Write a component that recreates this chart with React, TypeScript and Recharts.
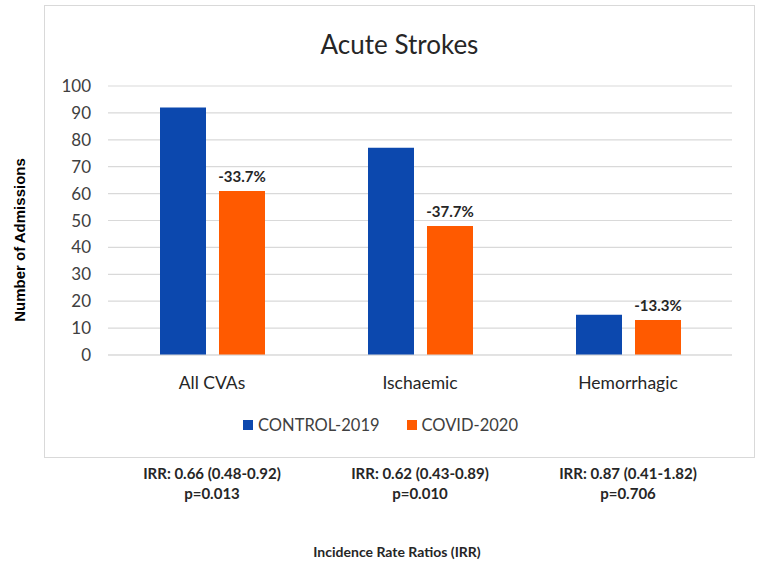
import { Bar, BarChart, CartesianGrid, XAxis, YAxis, LabelList } from "recharts";

const categories = ["All CVAs", "Ischaemic", "Hemorrhagic"];
const control2019 = [92, 77, 15];
const covid2020 = [61, 48, 13];
const changeLabels = ["-33.7%", "-37.7%", "-13.3%"];
const irrLines = ["IRR: 0.66 (0.48-0.92)", "IRR: 0.62 (0.43-0.89)", "IRR: 0.87 (0.41-1.82)"];
const pLines = ["p=0.013", "p=0.010", "p=0.706"];
const yTicks = [0, 10, 20, 30, 40, 50, 60, 70, 80, 90, 100];

const BLUE = "#0C48AE";
const ORANGE = "#FF5A00";
const FONT = "Lato, 'Open Sans', sans-serif";

const data = categories.map((name, i) => ({
  name,
  control: control2019[i],
  covid: covid2020[i],
  change: changeLabels[i],
}));

const CategoryTick = (props: any) => {
  const { x, y, payload } = props;
  const i = payload.index;
  return (
    <g>
      <text x={x} y={y + 19} textAnchor="middle" dominantBaseline="central" fontSize={17.5} fill="#262626" fontFamily={FONT}>
        {payload.value}
      </text>
      <text x={x} y={y + 110} textAnchor="middle" dominantBaseline="central" fontSize={15} fontWeight={700} fill="#262626" fontFamily={FONT}>
        {irrLines[i]}
      </text>
      <text x={x} y={y + 130} textAnchor="middle" dominantBaseline="central" fontSize={15} fontWeight={700} fill="#262626" fontFamily={FONT}>
        {pLines[i]}
      </text>
    </g>
  );
};

export default function App() {
  return (
    <div style={{ position: "absolute", left: 0, top: 0, width: 761, height: 565, background: "#fff", overflow: "hidden" }}>
      {/* chart frame */}
      <div style={{ position: "absolute", left: 44, top: 5, width: 709, height: 451, border: "1.5px solid #d9d9d9" }} />
      <div style={{ position: "absolute", left: 44, width: 711, top: 28, textAlign: "center", fontFamily: FONT, fontSize: 26, color: "#262626" }}>
        Acute Strokes
      </div>
      <div
        style={{
          position: "absolute",
          left: 19,
          top: 240,
          transform: "translate(-50%, -50%) rotate(-90deg)",
          whiteSpace: "nowrap",
          fontFamily: "'Liberation Sans', Arial, sans-serif",
          fontWeight: 700,
          fontSize: 15,
          color: "#000",
        }}
      >
        Number of Admissions
      </div>
      {/* legend */}
      <div
        style={{
          position: "absolute",
          left: 0,
          width: 761,
          top: 425,
          transform: "translateY(-50%)",
          display: "flex",
          justifyContent: "center",
          gap: 27,
          fontFamily: FONT,
          fontSize: 16.5,
          color: "#404040",
        }}
      >
        <span style={{ display: "flex", alignItems: "center", gap: 5 }}>
          <span style={{ width: 10, height: 10, background: BLUE, display: "inline-block" }} />
          CONTROL-2019
        </span>
        <span style={{ display: "flex", alignItems: "center", gap: 5 }}>
          <span style={{ width: 10, height: 10, background: ORANGE, display: "inline-block" }} />
          COVID-2020
        </span>
      </div>
      <div
        style={{
          position: "absolute",
          left: 397,
          top: 551,
          transform: "translate(-50%, -50%)",
          whiteSpace: "nowrap",
          fontFamily: FONT,
          fontWeight: 700,
          fontSize: 14,
          color: "#262626",
        }}
      >
        Incidence Rate Ratios (IRR)
      </div>
      <div style={{ position: "absolute", left: 0, top: 0 }}>
        <BarChart
          width={761}
          height={565}
          data={data}
          margin={{ top: 86, right: 29, bottom: 180, left: 48 }}
          barSize={46}
          barGap={13}
        >
          <CartesianGrid vertical={false} stroke="#d9d9d9" strokeWidth={1.2} />
          <XAxis
            dataKey="name"
            height={30}
            axisLine={{ stroke: "#d9d9d9" }}
            tickLine={false}
            tick={<CategoryTick />}
            interval={0}
          />
          <YAxis
            width={60}
            domain={[0, 100]}
            ticks={yTicks}
            interval={0}
            axisLine={false}
            tickLine={false}
            tickMargin={11}
            tick={{ fill: "#404040", fontSize: 17, fontFamily: FONT }}
          />
          <Bar dataKey="control" name="CONTROL-2019" fill={BLUE} isAnimationActive={false} />
          <Bar dataKey="covid" name="COVID-2020" fill={ORANGE} isAnimationActive={false}>
            <LabelList
              dataKey="change"
              position="top"
              offset={9}
              fill="#262626"
              fontSize={15}
              fontWeight={700}
              fontFamily={FONT}
            />
          </Bar>
        </BarChart>
      </div>
    </div>
  );
}
